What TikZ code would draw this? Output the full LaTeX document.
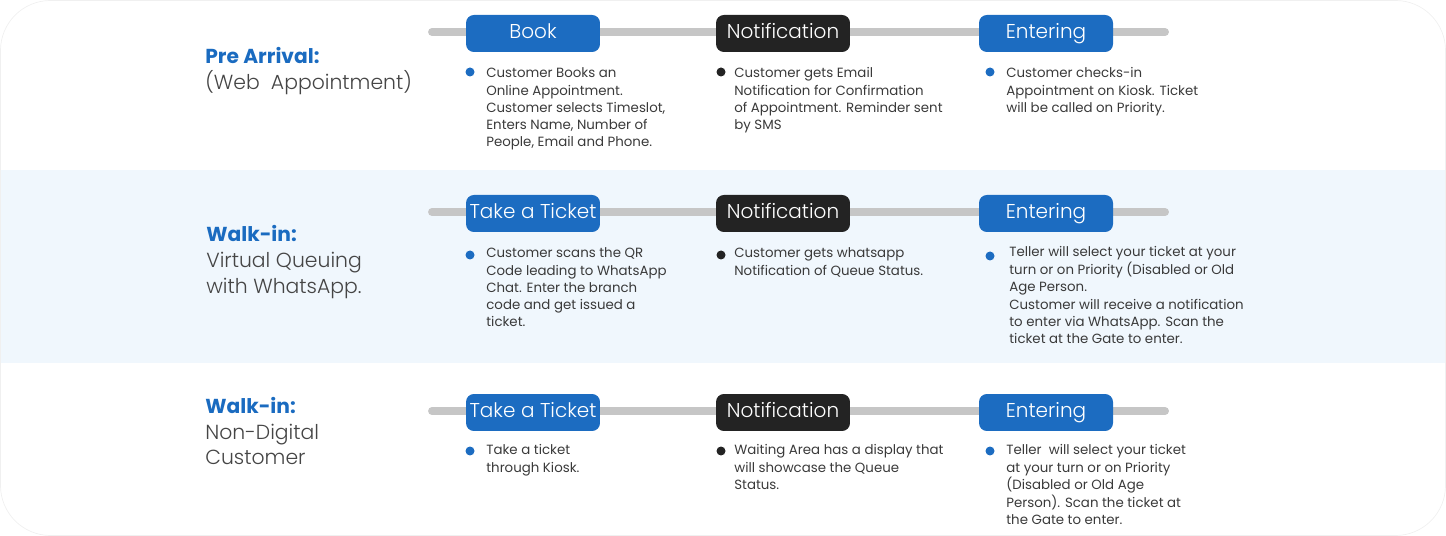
\documentclass[tikz,border=0pt]{standalone}
\usepackage{fontspec}
\setmainfont{Poppins}
\newfontfamily\lightfont{Poppins Light}
\usetikzlibrary{shapes, arrows.meta, positioning}
\definecolor{stepblue}{HTML}{1C6CC1}
\definecolor{stepdark}{HTML}{232323}
\definecolor{trackgray}{HTML}{C6C6C6}
\definecolor{bandblue}{HTML}{F0F7FD}
\definecolor{headblue}{HTML}{1A6BC0}
\definecolor{subgray}{HTML}{454545}
\definecolor{notegray}{HTML}{3A3A3A}
% lines of a text block, baseline on the first line
\newcommand{\toplines}[1]{\begin{tabular}[t]{@{}l@{}}#1\end{tabular}}

\begin{document}
\begin{tikzpicture}[x=0.02cm, y=-0.02cm,
  track/.style={line width=4.5pt, line cap=round, color=trackgray},
  stepbox/.style={rounded corners=4.5pt, minimum width=2.68cm, minimum height=0.74cm,
                  inner sep=0pt, text height=8pt, text depth=2.3pt, text=white,
                  font=\lightfont\fontsize{11.4}{13}\selectfont},
  bluebox/.style={stepbox, fill=stepblue},
  darkbox/.style={stepbox, fill=stepdark},
  dot/.style={circle, inner sep=0pt, minimum size=0.18cm},
  note/.style={anchor=base west, inner sep=0pt, text=notegray,
               font=\fontsize{7.6}{9.8}\selectfont},
  heading/.style={anchor=base west, inner sep=0pt, text=headblue,
                  font=\bfseries\fontsize{11.5}{14}\selectfont},
  subhead/.style={anchor=base west, inner sep=0pt, text=subgray,
                  font=\lightfont\fontsize{11.6}{14.3}\selectfont}]
  \useasboundingbox (0,0) rectangle (1446,536);
  \draw[gray!12, rounded corners=1cm] (0.5,0.5) rectangle (1445.5,535.5);
  \fill[bandblue] (1,170) rectangle (1445,363);

  % pre arrival
  \node[heading] (pre) at (205,64) {Pre Arrival:};
  \node[subhead] (web) at (205,90) {(Web\ \ Appointment)};
  \coordinate (r1s) at (432,32);
  \coordinate (r1e) at (1165,32);
  \draw[track] (r1s) -- (r1e);
  \node[bluebox] (book) at (533,33.5) {Book};
  \node[darkbox] (notif1) at (783,33.5) {Notification};
  \node[bluebox] (enter1) at (1046,33.5) {Entering};
  \node[dot, fill=stepblue] (d11) at (470,72) {};
  \node[note] (t11) at (486,78) {\toplines{Customer Books an\\Online Appointment.\\Customer selects Timeslot,\\Enters Name, Number of\\People, Email and Phone.}};
  \node[dot, fill=stepdark] (d12) at (721,72) {};
  \node[note] (t12) at (734,78) {\toplines{Customer gets Email\\Notification for Confirmation\\of Appointment. Reminder sent\\by SMS}};
  \node[dot, fill=stepblue] (d13) at (990,72) {};
  \node[note] (t13) at (1006,78) {\toplines{Customer checks-in\\Appointment on Kiosk. Ticket\\will be called on Priority.}};

  % walk-in virtual
  \node[heading] (walk2) at (206,242) {Walk-in:};
  \node[subhead] (virt) at (206,268) {\toplines{Virtual Queuing\\with WhatsApp.}};
  \coordinate (r2s) at (432,212);
  \coordinate (r2e) at (1165,212);
  \draw[track] (r2s) -- (r2e);
  \node[bluebox] (take2) at (533,213.5) {Take a Ticket};
  \node[darkbox] (notif2) at (783,213.5) {Notification};
  \node[bluebox] (enter2) at (1046,213.5) {Entering};
  \node[dot, fill=stepblue] (d21) at (470,255) {};
  \node[note] (t21) at (486,258) {\toplines{Customer scans the QR\\Code leading to WhatsApp\\Chat. Enter the branch\\code and get issued a\\ticket.}};
  \node[dot, fill=stepdark] (d22) at (721,255) {};
  \node[note] (t22) at (734,258) {\toplines{Customer gets whatsapp\\Notification of Queue Status.}};
  \node[dot, fill=stepblue] (d23) at (990,256) {};
  \node[note] (t23) at (1009,257) {\toplines{Teller will select your ticket at your\\turn or on Priority (Disabled or Old\\Age Person.\\Customer will receive a notification\\to enter via WhatsApp. Scan the\\ticket at the Gate to enter.}};

  % walk-in non digital
  \node[heading] (walk3) at (205,414) {Walk-in:};
  \node[subhead] (nondig) at (205,439) {\toplines{Non-Digital\\Customer}};
  \coordinate (r3s) at (432,411);
  \coordinate (r3e) at (1165,411);
  \draw[track] (r3s) -- (r3e);
  \node[bluebox] (take3) at (533,412.5) {Take a Ticket};
  \node[darkbox] (notif3) at (783,412.5) {Notification};
  \node[bluebox] (enter3) at (1046,412.5) {Entering};
  \node[dot, fill=stepblue] (d31) at (470,451) {};
  \node[note] (t31) at (486,455) {\toplines{Take a ticket\\through Kiosk.}};
  \node[dot, fill=stepdark] (d32) at (721,451) {};
  \node[note] (t32) at (734,455) {\toplines{Waiting Area has a display that\\will showcase the Queue\\Status.}};
  \node[dot, fill=stepblue] (d33) at (990,451) {};
  \node[note] (t33) at (1006,455) {\toplines{Teller\ \ will select your ticket\\at your turn or on Priority\\(Disabled or Old Age\\Person). Scan the ticket at\\the Gate to enter.}};
\end{tikzpicture}
\end{document}
